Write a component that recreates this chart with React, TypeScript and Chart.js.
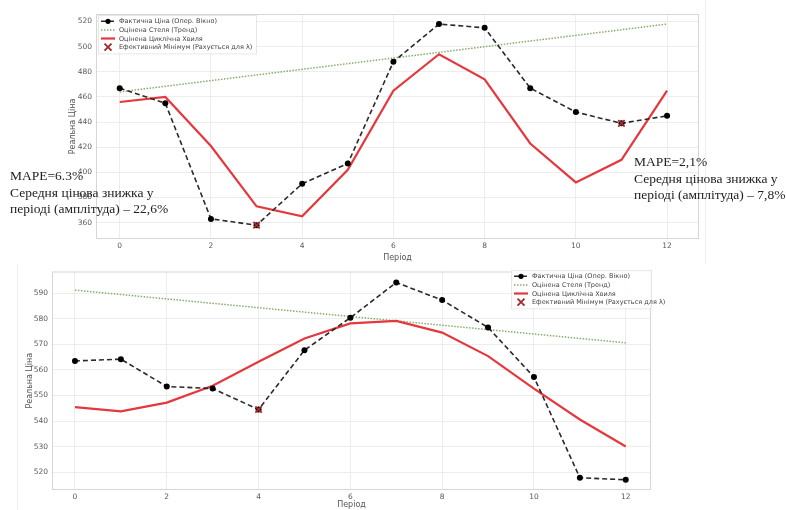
import React, { useEffect, useRef } from "react";
import { Chart, registerables } from "chart.js";

Chart.register(...registerables);

// ---------- data ----------
const periods = [0, 1, 2, 3, 4, 5, 6, 7, 8, 9, 10, 11, 12];
const xTickValues = [0, 2, 4, 6, 8, 10, 12];

// top chart
const topActual = [467, 455, 363, 358, 391, 407, 488, 518, 515, 467, 448, 439, 445];
const topCycle = [456, 460, 421, 373, 365, 402, 465, 494, 474, 423, 392, 410, 465];
const topTrendX = [0, 12];
const topTrendY = [464, 518];
const topMinX = [3, 11];
const topMinY = [358, 439];
const topYTicks = [360, 380, 400, 420, 440, 460, 480, 500, 520];

// bottom chart
const botActual = [563.5, 564.2, 553.5, 552.7, 544.5, 567.7, 580.4, 594.2, 587.3, 576.6, 557.2, 517.8, 517.0];
const botCycle = [545.4, 543.8, 547.2, 553.8, 563.2, 572.3, 578.2, 579.2, 574.6, 565.4, 552.7, 540.6, 530.0];
const botTrendX = [0, 12];
const botTrendY = [591.2, 570.6];
const botMinX = [4];
const botMinY = [544.5];
const botYTicks = [520, 530, 540, 550, 560, 570, 580, 590];

const legendLabels = [
  "Фактична Ціна (Опер. Вікно)",
  "Оцінена Стеля (Тренд)",
  "Оцінена Циклічна Хвиля",
  "Ефективний Мінімум (Рахується для λ)",
];

const annLeft = ["MAPE=6.3%", "Середня цінова знижка у", "періоді (амплітуда) – 22,6%"];
const annRight = ["MAPE=2,1%", "Середня цінова знижка у", "періоді (амплітуда) – 7,8%"];

// ---------- styles ----------
const C_ACTUAL = "#2a2a2a";
const C_TREND = "#86ad6a";
const C_CYCLE = "#e5383d";
const C_MIN = "#a3282b";
const TICK_FONT = { family: "DejaVu Sans", size: 7.5 };
const TICK_COLOR = "#5a5a5a";
const GRID_COLOR = "#e9e9e9";

const zip = (xs: number[], ys: number[]) => xs.map((x, i) => ({ x, y: ys[i] }));

const framePlugin = {
  id: "frame",
  beforeDatasetsDraw(chart: any) {
    const { ctx, chartArea: a } = chart;
    ctx.save();
    ctx.strokeStyle = "#d6d6d6";
    ctx.lineWidth = 1;
    ctx.strokeRect(a.left + 0.5, a.top + 0.5, a.right - a.left - 1, a.bottom - a.top - 1);
    ctx.restore();
  },
};

const boxLegendPlugin = {
  id: "boxLegend",
  afterDraw(chart: any, _args: any, opts: any) {
    if (!opts || opts.x === undefined) return;
    const { ctx } = chart;
    const ds = chart.data.datasets;
    const { x, y, w, rowH } = opts;
    const h = rowH * ds.length + 4;
    ctx.save();
    ctx.fillStyle = "rgba(255,255,255,0.85)";
    ctx.strokeStyle = "#e2e2e2";
    ctx.lineWidth = 0.8;
    ctx.fillRect(x, y, w, h);
    ctx.strokeRect(x + 0.5, y + 0.5, w, h);
    ds.forEach((d: any, i: number) => {
      const cy = y + 2 + rowH * (i + 0.5);
      const sx = x + 3;
      const ex = x + 17;
      if (d.showLine === false) {
        const cx = (sx + ex) / 2;
        ctx.strokeStyle = d.borderColor;
        ctx.lineWidth = 1.8;
        ctx.beginPath();
        ctx.moveTo(cx - 3.5, cy - 3.5);
        ctx.lineTo(cx + 3.5, cy + 3.5);
        ctx.moveTo(cx + 3.5, cy - 3.5);
        ctx.lineTo(cx - 3.5, cy + 3.5);
        ctx.stroke();
      } else {
        ctx.strokeStyle = d.borderColor;
        ctx.lineWidth = d.borderWidth;
        ctx.setLineDash(d.borderDash || []);
        ctx.beginPath();
        ctx.moveTo(sx, cy);
        ctx.lineTo(ex, cy);
        ctx.stroke();
        ctx.setLineDash([]);
        if (d.pointRadius > 0) {
          ctx.fillStyle = d.pointBackgroundColor;
          ctx.beginPath();
          ctx.arc((sx + ex) / 2, cy, 2.6, 0, Math.PI * 2);
          ctx.fill();
        }
      }
      ctx.fillStyle = "#444";
      ctx.font = "6.5px 'DejaVu Sans'";
      ctx.textBaseline = "middle";
      ctx.textAlign = "left";
      ctx.fillText(d.label, ex + 4, cy + 0.5);
    });
    ctx.restore();
  },
};

type Cfg = {
  actual: number[];
  cycle: number[];
  trendX: number[];
  trendY: number[];
  minX: number[];
  minY: number[];
  yTicks: number[];
  yMin: number;
  yMax: number;
  xMin: number;
  xMax: number;
  pad: { left: number; top: number; right: number; bottom: number };
  yWidth: number;
  xHeight: number;
  legend: { x: number; y: number; w: number; rowH: number };
};

function TrendChart({ cfg, style }: { cfg: Cfg; style: React.CSSProperties }) {
  const ref = useRef<HTMLCanvasElement | null>(null);
  useEffect(() => {
    if (!ref.current) return;
    const chart = new Chart(ref.current, {
      type: "line",
      data: {
        datasets: [
          {
            label: legendLabels[0],
            data: zip(periods, cfg.actual),
            borderColor: C_ACTUAL,
            borderWidth: 1.6,
            borderDash: [5, 3],
            pointRadius: 3,
            pointBackgroundColor: "#000",
            pointBorderColor: "#000",
            pointBorderWidth: 0,
            order: 1,
          },
          {
            label: legendLabels[1],
            data: zip(cfg.trendX, cfg.trendY),
            borderColor: C_TREND,
            borderWidth: 1.5,
            borderDash: [1.5, 1.5],
            pointRadius: 0,
            order: 3,
          },
          {
            label: legendLabels[2],
            data: zip(periods, cfg.cycle),
            borderColor: C_CYCLE,
            borderWidth: 2.2,
            pointRadius: 0,
            order: 2,
          },
          {
            label: legendLabels[3],
            data: zip(cfg.minX, cfg.minY),
            borderColor: C_MIN,
            backgroundColor: C_MIN,
            showLine: false,
            pointStyle: "crossRot",
            pointRadius: 4.5,
            pointBorderWidth: 1.8,
            pointBorderColor: C_MIN,
            order: 0,
          },
        ] as any,
      },
      options: {
        animation: false,
        responsive: false,
        maintainAspectRatio: false,
        layout: { padding: cfg.pad },
        plugins: {
          legend: { display: false },
          tooltip: { enabled: false },
          boxLegend: cfg.legend,
        } as any,
        scales: {
          x: {
            type: "linear",
            min: cfg.xMin,
            max: cfg.xMax,
            afterBuildTicks: (s: any) => {
              s.ticks = xTickValues.map((v) => ({ value: v }));
            },
            afterFit: (s: any) => {
              s.height = cfg.xHeight;
            },
            grid: { color: GRID_COLOR, lineWidth: 0.8, drawTicks: false },
            border: { display: false },
            ticks: { font: TICK_FONT, color: TICK_COLOR, padding: 3, maxRotation: 0 },
            title: {
              display: true,
              text: "Період",
              font: { family: "DejaVu Sans", size: 8 },
              color: "#555",
              padding: { top: 0, bottom: 0 },
            },
          },
          y: {
            type: "linear",
            min: cfg.yMin,
            max: cfg.yMax,
            afterBuildTicks: (s: any) => {
              s.ticks = cfg.yTicks.map((v) => ({ value: v }));
            },
            afterFit: (s: any) => {
              s.width = cfg.yWidth;
            },
            grid: { color: GRID_COLOR, lineWidth: 0.8, drawTicks: false },
            border: { display: false },
            ticks: { font: TICK_FONT, color: TICK_COLOR, padding: 4 },
            title: {
              display: true,
              text: "Реальна Ціна",
              font: { family: "DejaVu Sans", size: 8 },
              color: "#555",
              padding: { top: 8, bottom: 0 },
            },
          },
        },
      },
      plugins: [framePlugin, boxLegendPlugin],
    } as any);
    return () => chart.destroy();
  }, [cfg]);
  const w = style.width as number;
  const h = style.height as number;
  return <canvas ref={ref} width={w} height={h} style={{ position: "absolute", ...style }} />;
}

const topCfg: Cfg = {
  actual: topActual,
  cycle: topCycle,
  trendX: topTrendX,
  trendY: topTrendY,
  minX: topMinX,
  minY: topMinY,
  yTicks: topYTicks,
  yMin: 347,
  yMax: 526,
  xMin: -0.52,
  xMax: 12.7,
  pad: { left: 0, top: 14, right: 7, bottom: 0 },
  yWidth: 36,
  xHeight: 24,
  legend: { x: 38, y: 15, w: 158, rowH: 8.6 },
};

const botCfg: Cfg = {
  actual: botActual,
  cycle: botCycle,
  trendX: botTrendX,
  trendY: botTrendY,
  minX: botMinX,
  minY: botMinY,
  yTicks: botYTicks,
  yMin: 513,
  yMax: 598.5,
  xMin: -0.5,
  xMax: 12.55,
  pad: { left: 0, top: 4, right: 39, bottom: 0 },
  yWidth: 35,
  xHeight: 20,
  legend: { x: 494, y: 7, w: 140, rowH: 8.6 },
};

const annStyle: React.CSSProperties = {
  position: "absolute",
  fontFamily: "'Liberation Serif', 'DejaVu Serif', serif",
  fontSize: 13.5,
  lineHeight: "16.5px",
  color: "#222",
  whiteSpace: "nowrap",
};

export default function App() {
  return (
    <div
      style={{
        position: "fixed",
        left: 0,
        top: 0,
        width: 786,
        height: 510,
        background: "#fff",
        overflow: "hidden",
      }}
    >
      <TrendChart cfg={topCfg} style={{ left: 60, top: 0, width: 646, height: 263 }} />
      <TrendChart cfg={botCfg} style={{ left: 17, top: 263, width: 673, height: 247 }} />
      <div style={{ position: "absolute", left: 705, top: 0, width: 1, height: 263, background: "#eeeeee" }} />
      <div style={{ position: "absolute", left: 17, top: 265, width: 1, height: 245, background: "#eeeeee" }} />
      <div style={{ ...annStyle, left: 10, top: 168 }}>
        {annLeft.map((t, i) => (
          <div key={i}>{t}</div>
        ))}
      </div>
      <div style={{ ...annStyle, left: 634, top: 154 }}>
        {annRight.map((t, i) => (
          <div key={i}>{t}</div>
        ))}
      </div>
    </div>
  );
}
